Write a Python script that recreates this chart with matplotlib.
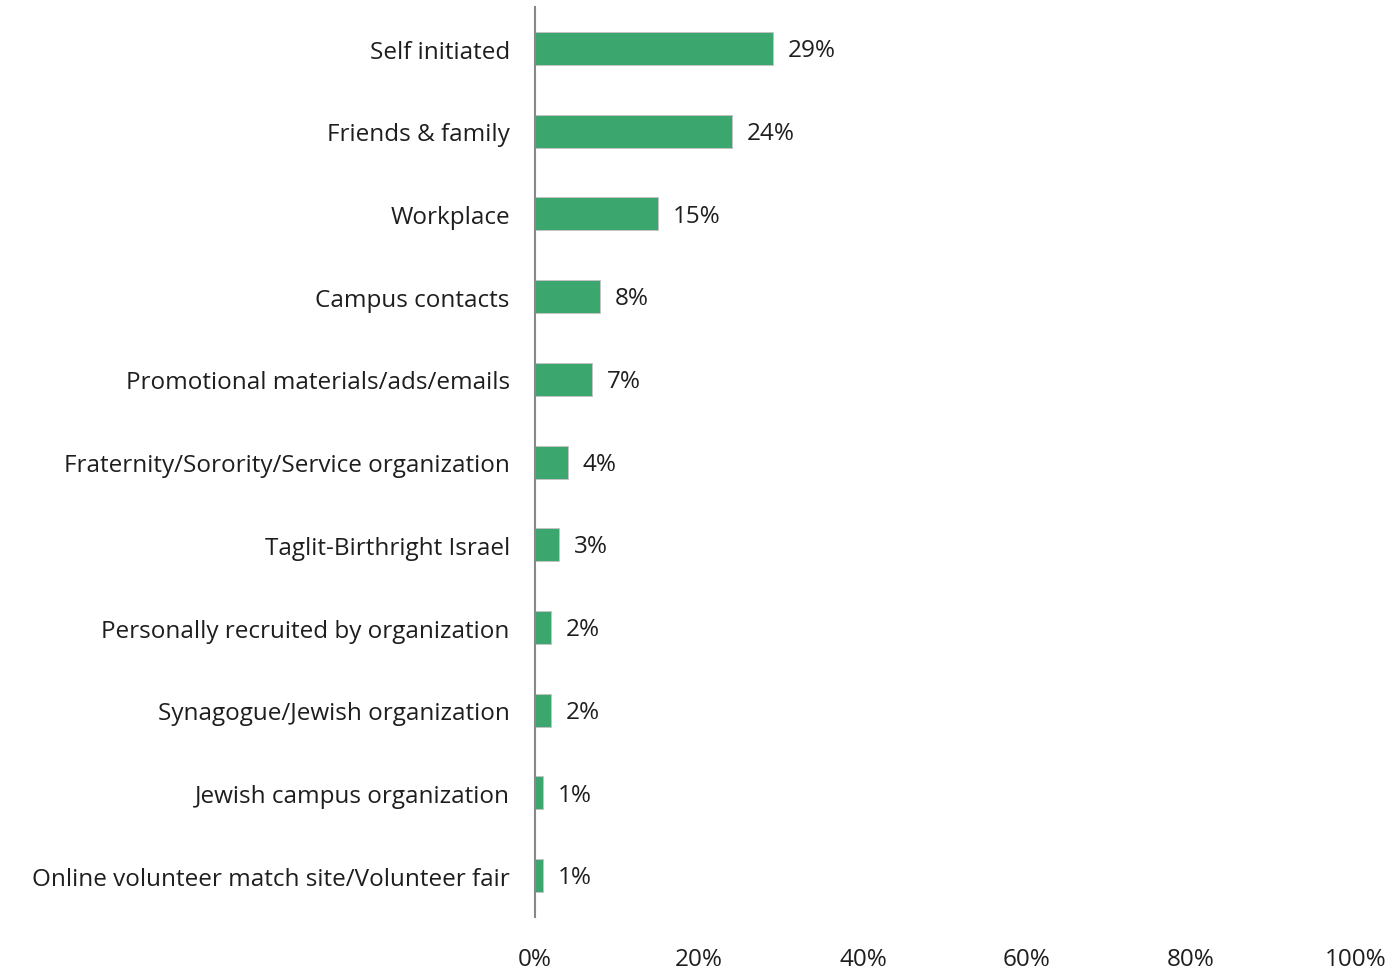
import matplotlib.pyplot as plt
import numpy as np

categories = [
    "Self initiated",
    "Friends & family",
    "Workplace",
    "Campus contacts",
    "Promotional materials/ads/emails",
    "Fraternity/Sorority/Service organization",
    "Taglit-Birthright Israel",
    "Personally recruited by organization",
    "Synagogue/Jewish organization",
    "Jewish campus organization",
    "Online volunteer match site/Volunteer fair",
]
values = [29, 24, 15, 8, 7, 4, 3, 2, 2, 1, 1]
x_ticks = [0, 20, 40, 60, 80, 100]
x_tick_labels = ["0%", "20%", "40%", "60%", "80%", "100%"]

bar_color = "#3ca66f"
text_color = "#1e1e1e"
fs = 17.5

plt.rcParams['font.family'] = ['Open Sans', 'DejaVu Sans']

fig = plt.figure(figsize=(14, 9.7), dpi=100)
ax = fig.add_axes([0.382, 0.0536, 0.586, 0.938])

y = np.arange(len(categories))
ax.barh(y, values, height=0.4, color=bar_color, edgecolor="#c4c4c4", linewidth=0.7)

for yi, v in zip(y, values):
    ax.text(v + 1.8, yi + 0.02, f"{v}%", va="center", ha="left",
            fontsize=fs, color=text_color)

ax.set_ylim(len(categories) - 0.5, -0.5)
ax.set_xlim(0, 100)
ax.set_yticks(y)
ax.set_yticklabels(categories, fontsize=fs, color=text_color)
ax.set_xticks(x_ticks)
ax.set_xticklabels(x_tick_labels, fontsize=fs, color=text_color)
ax.tick_params(axis="both", length=0)
ax.tick_params(axis="y", pad=18)
ax.tick_params(axis="x", pad=21.5)

for side in ["top", "right", "bottom"]:
    ax.spines[side].set_visible(False)
ax.spines["left"].set_color("#888888")
ax.spines["left"].set_linewidth(1.5)

fig.savefig("out.png", dpi=100)
